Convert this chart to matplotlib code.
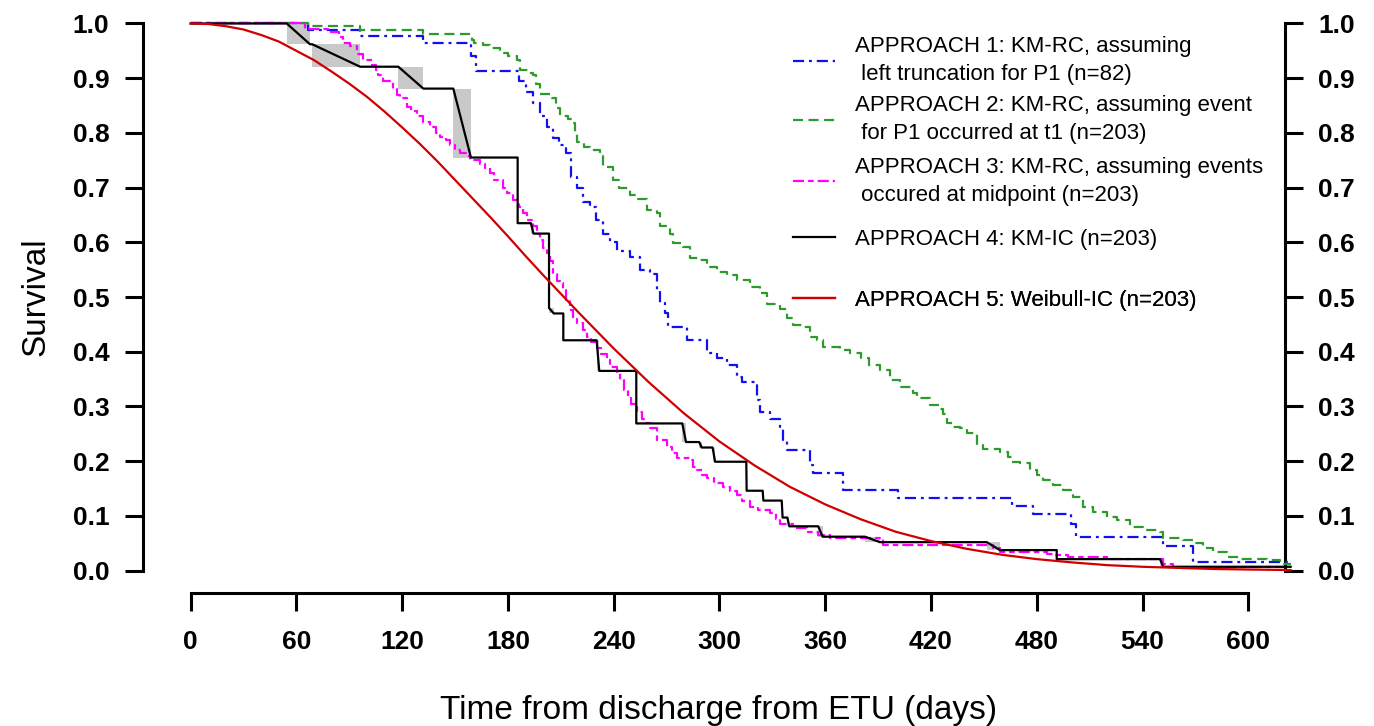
import numpy as np
import matplotlib
matplotlib.use("Agg")
import matplotlib.pyplot as plt
from matplotlib.patches import Rectangle

plt.rcParams['font.family'] = ['Liberation Sans', 'DejaVu Sans']

# ---------------- data ----------------
# Approach 1: KM-RC, left truncation (step function)
a1_t = [0, 66.8, 96.1, 132, 159, 162, 186, 190, 194, 198, 202, 205.7, 209, 213, 216, 219,
        222.7, 226.5, 230, 234, 238, 241.7, 249, 255, 260.7, 264.4, 266, 269, 271, 281.4,
        292.7, 298.4, 304, 309.8, 313, 321, 323, 328.7, 334.4, 336.2, 338.1, 351.3, 353.2,
        370.2, 401.4, 465.7, 477.6, 499.2, 502, 551.7, 568.8, 624]
a1_s = [1.0, 0.989, 0.977, 0.964, 0.94, 0.913, 0.894, 0.875, 0.855, 0.83, 0.81, 0.79, 0.777,
        0.763, 0.72, 0.70, 0.674, 0.665, 0.64, 0.616, 0.60, 0.585, 0.574, 0.549, 0.543, 0.513,
        0.49, 0.47, 0.446, 0.421, 0.397, 0.388, 0.376, 0.354, 0.345, 0.312, 0.290, 0.278,
        0.263, 0.239, 0.220, 0.193, 0.178, 0.147, 0.132, 0.118, 0.103, 0.085, 0.061, 0.045,
        0.016, 0.016]

# Approach 2: KM-RC, event at t1 (step function)
a2_t = [0, 66.8, 96.1, 132, 159.4, 161, 166, 169.9, 175.5, 180, 185, 186.8, 192, 194.4, 196,
        198.2, 204.8, 207, 209.5, 214, 217, 218, 219, 223, 226.5, 232.2, 234.1, 239.8, 243,
        249.2, 253, 258.7, 264.4, 266.3, 271.9, 273.8, 279.5, 283.3, 289, 292.7, 298.4, 304.1,
        309.8, 317.3, 323, 326.8, 334.4, 338.1, 341.9, 347.5, 351.3, 355.1, 358.9, 368.4, 374.1,
        380, 385, 391, 396.7, 402.4, 410, 411.9, 419.4, 425.1, 427, 428.9, 432.6, 436.4, 440.2,
        445.9, 449.6, 459.1, 463.8, 465.7, 470.4, 476.1, 479.9, 483.7, 489.4, 495, 500.7, 506.4,
        512, 519.6, 525.3, 532.8, 540.4, 549.9, 551.7, 563.1, 568.8, 574.4, 580.1, 587.7, 595.2,
        610.4, 618, 624]
a2_s = [1.0, 0.995, 0.989, 0.981, 0.970, 0.964, 0.960, 0.955, 0.946, 0.94, 0.933, 0.915, 0.91,
        0.906, 0.89, 0.872, 0.863, 0.845, 0.830, 0.825, 0.818, 0.80, 0.784, 0.775, 0.769, 0.757,
        0.738, 0.714, 0.70, 0.686, 0.680, 0.659, 0.653, 0.629, 0.616, 0.598, 0.592, 0.571, 0.568,
        0.555, 0.546, 0.540, 0.531, 0.519, 0.507, 0.488, 0.479, 0.461, 0.449, 0.446, 0.427, 0.421,
        0.409, 0.403, 0.397, 0.388, 0.375, 0.366, 0.348, 0.336, 0.324, 0.315, 0.303, 0.296, 0.287,
        0.269, 0.263, 0.260, 0.251, 0.229, 0.223, 0.217, 0.208, 0.199, 0.196, 0.184, 0.175, 0.165,
        0.156, 0.147, 0.135, 0.117, 0.107, 0.098, 0.092, 0.080, 0.074, 0.071, 0.059, 0.056, 0.050,
        0.041, 0.034, 0.025, 0.022, 0.019, 0.013, 0.013]

# Approach 3: KM-RC, midpoint (step function)
a3_t = [0, 65, 78, 84, 86.6, 90.4, 94.2, 98, 102.7, 105, 106.5, 109.3, 115, 117, 118.8, 122.6,
        125, 128.2, 132, 135.8, 139, 141.5, 145, 147.2, 150, 152.8, 156.6, 158.5, 164.2, 167,
        169.8, 172, 177, 179.3, 183, 186, 188.7, 191, 194.4, 196.5, 198.2, 200, 202, 203.9, 205.7,
        208, 209.5, 211.4, 213, 215.2, 217, 219, 222.7, 224.7, 227, 230.4, 233, 236, 237.9, 241.7,
        243.6, 246, 248, 250, 253, 256, 258, 260.6, 264.4, 270, 273, 275.7, 283.3, 285, 287.1, 290,
        292.7, 297, 302.2, 306, 309.8, 313, 317.4, 322, 328.7, 332, 334.4, 341.9, 349.5, 356, 362.7,
        392.9, 455.3, 459.1, 485.6, 490, 497.8, 520, 551.7, 557.4, 624]
a3_s = [1.0, 0.99, 0.985, 0.975, 0.964, 0.958, 0.945, 0.933, 0.924, 0.915, 0.906, 0.894, 0.881,
        0.87, 0.863, 0.848, 0.84, 0.830, 0.82, 0.811, 0.80, 0.793, 0.787, 0.778, 0.769, 0.763,
        0.757, 0.750, 0.744, 0.735, 0.726, 0.714, 0.70, 0.690, 0.677, 0.665, 0.653, 0.64, 0.629,
        0.615, 0.604, 0.59, 0.580, 0.565, 0.543, 0.53, 0.525, 0.513, 0.495, 0.476, 0.46, 0.452,
        0.440, 0.427, 0.418, 0.406, 0.395, 0.385, 0.373, 0.361, 0.348, 0.33, 0.32, 0.305, 0.29,
        0.278, 0.27, 0.260, 0.239, 0.226, 0.215, 0.205, 0.202, 0.19, 0.184, 0.175, 0.169, 0.16,
        0.153, 0.145, 0.138, 0.128, 0.117, 0.11, 0.105, 0.095, 0.086, 0.077, 0.071, 0.065, 0.059,
        0.047, 0.041, 0.034, 0.031, 0.028, 0.025, 0.022, 0.013, 0.007, 0.007]

# Approach 4: KM-IC (Turnbull) vertices; sloped drops mark indeterminate intervals
a4_t = [0, 54.5, 67.7, 69.0, 96.1, 117.8, 132.0, 149.0, 159.0, 185.5, 185.5, 193.0, 194.5,
        203.3, 203.3, 206.0, 211.4, 211.4, 230.3, 231.8, 252.8, 252.8, 278.9, 281.0, 288.5,
        289.9, 296.1, 297.5, 315.2, 315.4, 324.5, 324.9, 335.3, 335.8, 338.5, 339.6, 356.0,
        358.5, 382.5, 391.0, 451.6, 459.1, 491.3, 491.3, 549.9, 551.7, 624]
a4_s = [1.0, 1.0, 0.962, 0.962, 0.921, 0.921, 0.881, 0.881, 0.755, 0.755, 0.635, 0.635, 0.616,
        0.616, 0.480, 0.470, 0.470, 0.421, 0.421, 0.365, 0.365, 0.269, 0.269, 0.235, 0.235,
        0.225, 0.225, 0.199, 0.199, 0.146, 0.146, 0.128, 0.128, 0.097, 0.097, 0.081, 0.081,
        0.062, 0.062, 0.052, 0.052, 0.0375, 0.0375, 0.021, 0.021, 0.007, 0.007]

# Approach 5: Weibull-IC curve, read at regular times
a5_t = [0, 10, 20, 30, 40, 50, 60, 70, 80, 90, 100, 110, 120, 130, 140, 150, 160, 170, 180,
        190, 200, 220, 240, 260, 280, 300, 320, 340, 360, 380, 400, 420, 440, 460, 480, 500,
        520, 540, 560, 580, 600, 624]
a5_s = [1.0, 0.999, 0.995, 0.989, 0.979, 0.967, 0.950, 0.933, 0.912, 0.890, 0.866, 0.839,
        0.810, 0.780, 0.748, 0.714, 0.680, 0.646, 0.611, 0.575, 0.540, 0.472, 0.406, 0.344,
        0.287, 0.236, 0.192, 0.153, 0.121, 0.094, 0.071, 0.054, 0.040, 0.029, 0.021, 0.015,
        0.010, 0.007, 0.005, 0.003, 0.002, 0.001]

labels = [
    "APPROACH 1: KM-RC, assuming\n left truncation for P1 (n=82)",
    "APPROACH 2: KM-RC, assuming event\n for P1 occurred at t1 (n=203)",
    "APPROACH 3: KM-RC, assuming events\n occured at midpoint (n=203)",
    "APPROACH 4: KM-IC (n=203)",
    "APPROACH 5: Weibull-IC (n=203)",
]
x_ticks = [0, 60, 120, 180, 240, 300, 360, 420, 480, 540, 600]
y_ticks = [0.0, 0.1, 0.2, 0.3, 0.4, 0.5, 0.6, 0.7, 0.8, 0.9, 1.0]
y_ticklabels = ["0.0", "0.1", "0.2", "0.3", "0.4", "0.5", "0.6", "0.7", "0.8", "0.9", "1.0"]

for t, s in [(a1_t, a1_s), (a2_t, a2_s), (a3_t, a3_s), (a4_t, a4_s), (a5_t, a5_s)]:
    assert len(t) == len(s)

# ---------------- figure ----------------
W, H = 1374, 726
fig = plt.figure(figsize=(W / 100, H / 100), dpi=100)
ax_l, ax_r, ax_top, ax_bot = 142.7, 1285.0, 1.6, 592.5
ax = fig.add_axes([ax_l / W, (H - ax_bot) / H, (ax_r - ax_l) / W, (ax_bot - ax_top) / H])
ax.set_xlim(-27.2, 620.8)
ax.set_ylim(-0.04, 1.04)

BLUE = "#1010f0"
GREEN = "#2c9a2c"
MAGENTA = "#ff00ff"
RED = "#d00000"
GREY = "#c9c9c9"
lw = 1.6

# grey boxes for the sloped (interval-censored) drops of approach 4
for i in range(len(a4_t) - 1):
    if a4_t[i + 1] > a4_t[i] and a4_s[i + 1] < a4_s[i]:
        ax.add_patch(Rectangle((a4_t[i], a4_s[i + 1]), a4_t[i + 1] - a4_t[i],
                               a4_s[i] - a4_s[i + 1], facecolor=GREY, edgecolor="none",
                               zorder=1))

l1, = ax.step(a1_t, a1_s, where="post", color=BLUE, lw=lw, dashes=(5, 2.2, 1.3, 2.2),
              clip_on=False, zorder=3)
l2, = ax.step(a2_t, a2_s, where="post", color=GREEN, lw=lw, dashes=(4.5, 2.5),
              clip_on=False, zorder=3)
l3, = ax.step(a3_t, a3_s, where="post", color=MAGENTA, lw=lw, dashes=(5, 1.8, 2.5, 1.8),
              clip_on=False, zorder=3)
l4, = ax.plot(a4_t, a4_s, color="black", lw=lw, clip_on=False, zorder=4)
l5, = ax.plot(a5_t, a5_s, color=RED, lw=lw, clip_on=False, zorder=5)

# ---------------- axes styling (R base-graphics look) ----------------
axis_lw = 2.2
ax.spines["top"].set_visible(False)
for side in ["left", "right", "bottom"]:
    ax.spines[side].set_linewidth(axis_lw)
ax.spines["left"].set_bounds(0, 1)
ax.spines["right"].set_bounds(0, 1)
ax.spines["bottom"].set_bounds(0, 600)

ax.set_xticks(x_ticks)
ax.set_xticklabels([str(v) for v in x_ticks], fontsize=19, fontweight="bold")
ax.set_yticks(y_ticks)
ax.set_yticklabels(y_ticklabels, fontsize=19, fontweight="bold")
ax.tick_params(axis="both", direction="out", length=13, width=axis_lw)
ax.tick_params(axis="y", right=True, labelright=True, pad=11)
ax.tick_params(axis="x", pad=14)

ax.set_xlabel("Time from discharge from ETU (days)", fontsize=24)
ax.xaxis.set_label_coords(0.5045, -0.199)
ax.xaxis.label.set_verticalalignment("center")
ax.set_ylabel("Survival", fontsize=24)
ax.yaxis.set_label_coords(-0.0934, 0.5)
ax.yaxis.label.set_verticalalignment("center")

# ---------------- legend (one box per entry, no frame) ----------------
leg_x = 0.569
leg_y = [0.900, 0.800, 0.696, 0.598, 0.495]
for h, lab, y in zip([l1, l2, l3, l4, l5], labels, leg_y):
    leg = ax.legend([h], [lab], loc="center left", bbox_to_anchor=(leg_x, y),
                    frameon=False, fontsize=16, handlelength=1.9, handletextpad=0.9,
                    borderpad=0, borderaxespad=0)
    for txt in leg.get_texts():
        txt.set_linespacing(1.45)
    ax.add_artist(leg)

fig.savefig("out.png", dpi=100)
